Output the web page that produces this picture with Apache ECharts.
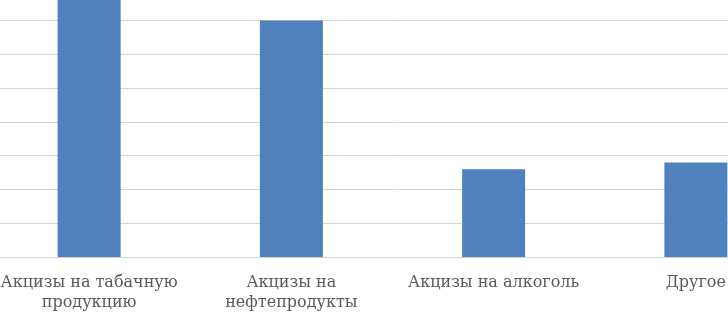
<!DOCTYPE html>
<html><head><meta charset="utf-8">
<script src="https://cdn.jsdelivr.net/npm/echarts@6/dist/echarts.min.js"></script>
<style>html,body{margin:0;padding:0;background:#fff;overflow:hidden;width:728px;height:313px;position:relative}
#c{position:absolute;left:-12px;top:-47px;width:809px;height:360px}</style>
</head><body><div id="c"></div>
<script>
const categories = ['Акцизы на табачную\nпродукцию', 'Акцизы на\nнефтепродукты', 'Акцизы на алкоголь', 'Другое'];
const values = [85, 70, 26, 28];
const yMin = 0, yMax = 90, yInterval = 10;

const chart = echarts.init(document.getElementById('c'));
chart.setOption({
  animation: false,
  grid: { left: 0, right: 0, top: 0, bottom: 56, containLabel: false },
  xAxis: {
    type: 'category', data: categories,
    axisLine: { lineStyle: { color: '#d4d4d4', width: 1 } },
    axisTick: { show: false },
    axisLabel: { interval: 0, margin: 16, color: '#595959', fontFamily: 'DejaVu Serif', fontSize: 16, lineHeight: 20 }
  },
  yAxis: {
    type: 'value', min: yMin, max: yMax, interval: yInterval,
    axisLabel: { show: false }, axisLine: { show: false }, axisTick: { show: false },
    splitLine: { lineStyle: { color: '#d4d4d4', width: 1 } }
  },
  series: [{ type: 'bar', data: values, barWidth: 63, itemStyle: { color: '#4f81bd' } }]
});
</script></body></html>
